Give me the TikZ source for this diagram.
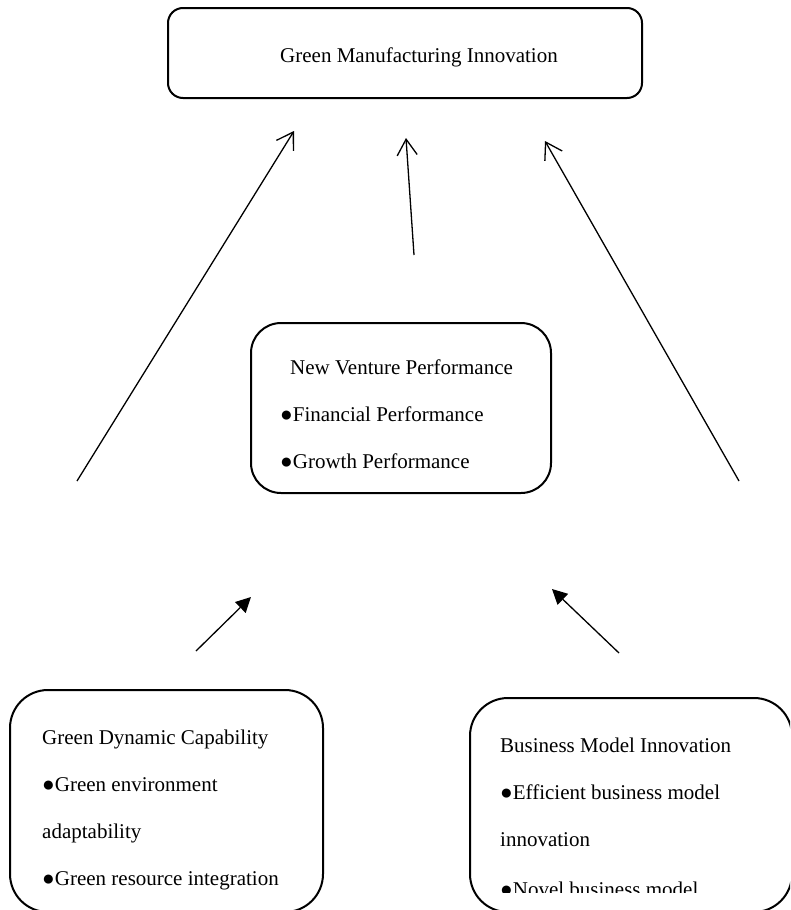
\documentclass[tikz,border=0pt]{standalone}
\usepackage{fontspec}
\setmainfont{Liberation Serif}
\usetikzlibrary{arrows.meta}
\begin{document}
\begin{tikzpicture}[x=1pt,y=-1pt,
  box/.style={draw, line width=2pt, rounded corners=#1, inner sep=0pt},
  txt/.style={anchor=base west, inner sep=0pt, font=\fontsize{21}{25}\selectfont},
  openarr/.style={line width=1.3pt, -{Straight Barb[length=16pt,width=20pt]}},
  fillarr/.style={line width=1.3pt, -{Triangle[length=15pt,width=15pt]}}]
\clip (0,0) rectangle (790,910);
% boxes
\node[box=15pt, minimum width=474pt, minimum height=90pt] (gmi) at (405,53) {};
\node[box=30pt, minimum width=300pt, minimum height=170pt] (nvp) at (401,408) {};
\node[box=38pt, minimum width=313pt, minimum height=222pt] (gdc) at (166.5,801) {};
\node[box=38pt, minimum width=322pt, minimum height=214pt] (bmi) at (631,805) {};
% texts
\node[txt, anchor=base] (t1) at (419,62) {Green Manufacturing Innovation};
\node[txt] (t2) at (290,374) {New Venture Performance};
\node[txt] (t3) at (280,421) {●Financial Performance};
\node[txt] (t4) at (280,468) {●Growth Performance};
\node[txt] (t5) at (42,744) {Green Dynamic Capability};
\node[txt] (t6) at (42,791) {●Green environment};
\node[txt] (t7) at (42,838) {adaptability};
\node[txt] (t8) at (42,885) {●Green resource integration};
\node[txt] (t9) at (500,752) {Business Model Innovation};
\node[txt] (t10) at (500,799) {●Efficient business model};
\node[txt] (t11) at (500,846) {innovation};
\begin{scope}
\clip (470,860) rectangle (790,892);
\node[txt] (t12) at (500,896) {●Novel business model};
\end{scope}
% arrow end points
\coordinate (a1s) at (77,481);
\coordinate (a1e) at (294,131);
\coordinate (a2s) at (414,255);
\coordinate (a2e) at (406,138);
\coordinate (a3s) at (739,481);
\coordinate (a3e) at (545,141);
\coordinate (a4s) at (196,651);
\coordinate (a4e) at (251,597);
\coordinate (a5s) at (619,653);
\coordinate (a5e) at (552,589);
\draw[openarr] (a1s) -- (a1e);
\draw[openarr] (a2s) -- (a2e);
\draw[openarr] (a3s) -- (a3e);
\draw[fillarr] (a4s) -- (a4e);
\draw[fillarr] (a5s) -- (a5e);
\end{tikzpicture}
\end{document}
